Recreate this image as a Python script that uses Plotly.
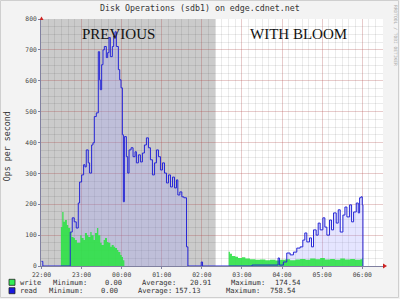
import plotly.graph_objects as go
import pandas as pd

# ---------------- data (minutes after 22:00) ----------------
BASE = pd.Timestamp("2013-01-01 22:00")

read_min = [0, 2, 43, 46, 49, 52, 55, 57, 60, 63, 65, 67, 70, 72, 75, 77, 79, 82, 85, 87, 88, 90,
            92, 94, 97, 99, 101, 103, 106, 108, 110, 112, 115, 117, 119, 121, 122.5, 124, 127, 129,
            131, 134, 137, 140, 142, 145, 148, 151, 154, 157, 160, 163, 166, 169, 172, 175, 178,
            181, 184, 187, 190, 193, 196, 199, 202, 204, 207, 210, 213, 217, 219, 239, 241, 315,
            354, 356, 362, 367, 372, 377, 382, 387, 391, 394, 397, 401, 404, 407, 411, 414, 417,
            421, 424, 427, 431, 434, 437, 441, 444, 447, 451, 454, 457, 461, 464, 467, 471, 474,
            476, 478, 480, 481]
read_val = [15, 0, 110, 156, 143, 123, 204, 272, 295, 328, 321, 376, 334, 301, 392, 399, 484, 496,
            694, 603, 571, 652, 700, 711, 675, 691, 740, 678, 711, 745, 758.5, 711, 636, 603, 577,
            425, 208, 419, 354, 301, 376, 383, 354, 370, 334, 360, 337, 366, 392, 415, 383, 344,
            295, 334, 376, 354, 311, 334, 301, 269, 295, 256, 288, 253, 279, 230, 240, 224, 221,
            62, 0, 13, 0, 3, 26, 3, 13, 42, 36, 45, 58, 62, 84, 107, 78, 91, 62, 117, 100, 139,
            117, 156, 126, 100, 149, 117, 172, 139, 182, 110, 165, 191, 159, 198, 143, 175, 204,
            172, 221, 224, 198, 0]

write_min = [29, 31, 33, 35, 38, 40, 43, 45, 48, 50, 53, 55, 58, 60, 63, 65, 68, 70, 73, 75, 78,
             80, 83, 85, 88, 90, 93, 95, 98, 100, 103, 105, 108, 110, 113, 115, 118, 120, 122, 124,
             280, 282, 285, 290, 294, 300, 305, 312, 320, 327, 335, 342, 350, 357, 365, 372, 380,
             387, 395, 402, 410, 417, 424, 432, 439, 447, 454, 462, 469, 477, 480, 481]
write_val = [126, 174.5, 143, 149, 133, 123, 110, 94, 91, 84, 75, 75, 100, 91, 84, 107, 100, 94,
             110, 100, 84, 107, 123, 100, 75, 68, 84, 91, 78, 75, 62, 68, 62, 58, 52, 45, 36, 29,
             19, 0, 46, 40, 32, 30, 26, 28, 24, 22, 20, 21, 19, 20, 18, 20, 22, 19, 21, 23, 20, 24,
             22, 26, 21, 23, 20, 24, 21, 23, 20, 22, 27, 0]

hour_labels = ["22:00", "23:00", "00:00", "01:00", "02:00", "03:00", "04:00", "05:00", "06:00"]
y_ticks = [0, 100, 200, 300, 400, 500, 600, 700, 800]
shade_end_min = 260
x_end_min = 511

title_text = "Disk Operations (sdb1) on edge.cdnet.net"
y_title = "Ops per second"
labels_left = ["PREVIOUS", "WITH BLOOM"]
legend_names = ["write", "read"]
legend_min = ["0.00", "0.00"]
legend_avg = ["20.91", "157.13"]
legend_max = ["174.54", "758.54"]
credit = "RRDTOOL / TOBI OETIKER"

# ---------------- layout helpers ----------------
W, H = 400, 299
L, R, T, B = 41, 17, 19, 33
PW, PH = W - L - R, H - T - B


def t(m):
    return BASE + pd.to_timedelta(m, unit="min")


def px(x):
    return (x - L) / PW


def py(y):
    return (H - B - y) / PH


MONO = "DejaVu Sans Mono"
SERIF = "Liberation Serif"

fig = go.Figure()

read_x = [t(m) for m in read_min]
write_x = [t(m) for m in write_min]

fig.add_trace(go.Scatter(x=read_x, y=read_val, mode="lines", line_shape="hv",
                         line=dict(width=0), fill="tozeroy",
                         fillcolor="rgba(160,160,255,0.28)", hoverinfo="skip",
                         showlegend=False))
fig.add_trace(go.Scatter(x=write_x, y=write_val, mode="lines", line_shape="hv",
                         line=dict(width=0, color="#33DD4C"), fill="tozeroy",
                         fillcolor="rgba(45,225,70,0.90)", hoverinfo="skip",
                         showlegend=False))
fig.add_trace(go.Scatter(x=read_x, y=read_val, mode="lines", line_shape="hv",
                         line=dict(width=1, color="#2626D6"), hoverinfo="skip",
                         showlegend=False))

shapes = [
    dict(type="rect", xref="x", yref="paper", x0=t(-2), x1=t(shade_end_min), y0=0, y1=1,
         fillcolor="#CBCBCB", line=dict(width=0), layer="below"),
    # outer frame
    dict(type="rect", xref="paper", yref="paper", x0=px(0.5), x1=px(398.5), y0=py(0.5),
         y1=py(297.5), line=dict(color="#CFCFCF", width=1), layer="below"),
    # x-axis arrow
    dict(type="path", xref="paper", yref="paper",
         path=f"M {px(383)} {py(263.5)} L {px(387)} {py(266)} L {px(383)} {py(268.5)} Z",
         fillcolor="#CC2222", line=dict(width=0)),
    # y-axis arrow
    dict(type="path", xref="paper", yref="paper",
         path=f"M {px(39.5)} {py(20)} L {px(41.5)} {py(16.5)} L {px(43.5)} {py(20)} Z",
         fillcolor="#CC2222", line=dict(width=0)),
]
legend_colors = ["#33EE55", "#1A1AE0"]
legend_rows_y = [282.3, 290.7]
for c, yy in zip(legend_colors, legend_rows_y):
    shapes.append(dict(type="rect", xref="paper", yref="paper", x0=px(9), x1=px(15),
                       y0=py(yy - 3), y1=py(yy + 3), fillcolor=c,
                       line=dict(color="#222222", width=0.8)))

annotations = [
    dict(text=title_text, x=px(200), y=py(7.5), xref="paper", yref="paper", showarrow=False,
         xanchor="center", yanchor="middle", font=dict(family=MONO, size=8.3, color="#333333")),
    dict(text=y_title, x=px(6.5), y=py(146.7), xref="paper", yref="paper", showarrow=False,
         textangle=-90, xanchor="center", yanchor="middle",
         font=dict(family=MONO, size=8.3, color="#333333")),
    dict(text=credit, x=px(395), y=py(35), xref="paper", yref="paper", showarrow=False,
         textangle=90, xanchor="center", yanchor="middle",
         font=dict(family=MONO, size=4.6, color="#AAAAAA")),
    dict(text=labels_left[0], x=px(118), y=py(34.3), xref="paper", yref="paper",
         showarrow=False, xanchor="center", yanchor="middle",
         font=dict(family=SERIF, size=15, color="#111111")),
    dict(text=labels_left[1], x=px(298), y=py(34.3), xref="paper", yref="paper",
         showarrow=False, xanchor="center", yanchor="middle",
         font=dict(family=SERIF, size=15, color="#111111")),
]

row_x = [
    [18.3, 51, 103, 140, 188, 229, 273],
    [18.3, 47, 99, 136, 173, 224, 268],
]
for i in range(2):
    tokens = [legend_names[i], "Minimum:", legend_min[i], "Average:", legend_avg[i],
              "Maximum:", legend_max[i]]
    for tok, xx in zip(tokens, row_x[i]):
        annotations.append(dict(text=tok, x=px(xx), y=py(legend_rows_y[i]), xref="paper",
                                yref="paper", showarrow=False, xanchor="left",
                                yanchor="middle",
                                font=dict(family=MONO, size=7.1, color="#333333")))

MAJOR = "rgba(220,60,60,0.18)"
MINOR = "rgba(0,0,0,0.08)"

fig.update_layout(
    width=W, height=H, margin=dict(l=L, r=R, t=T, b=B),
    paper_bgcolor="#F3F3F3", plot_bgcolor="#FFFFFF",
    shapes=shapes, annotations=annotations, showlegend=False,
    xaxis=dict(
        type="date", range=[t(-0.75), t(x_end_min)],
        tickmode="array", tickvals=[t(60 * i) for i in range(len(hour_labels))],
        ticktext=hour_labels,
        tickfont=dict(family=MONO, size=6.4, color="#444444"),
        showgrid=True, gridcolor=MAJOR, gridwidth=1,
        minor=dict(tick0=BASE, dtick=10 * 60 * 1000, showgrid=True,
                   gridcolor=MINOR, gridwidth=1),
        showline=True, linecolor="#8080A0", linewidth=1,
        ticks="outside", ticklen=2, tickcolor="#8080A0",
        zeroline=False, fixedrange=True,
    ),
    yaxis=dict(
        range=[0, 800], tickmode="array", tickvals=y_ticks,
        ticktext=[str(v) for v in y_ticks],
        tickfont=dict(family=MONO, size=6.3, color="#444444"),
        showgrid=True, gridcolor=MAJOR, gridwidth=1,
        minor=dict(tick0=0, dtick=25, showgrid=True,
                   gridcolor=MINOR, gridwidth=1),
        showline=True, linecolor="#8080A0", linewidth=1,
        ticks="outside", ticklen=2, tickcolor="#8080A0",
        zeroline=False, fixedrange=True,
    ),
)

fig.write_html("out.html")
